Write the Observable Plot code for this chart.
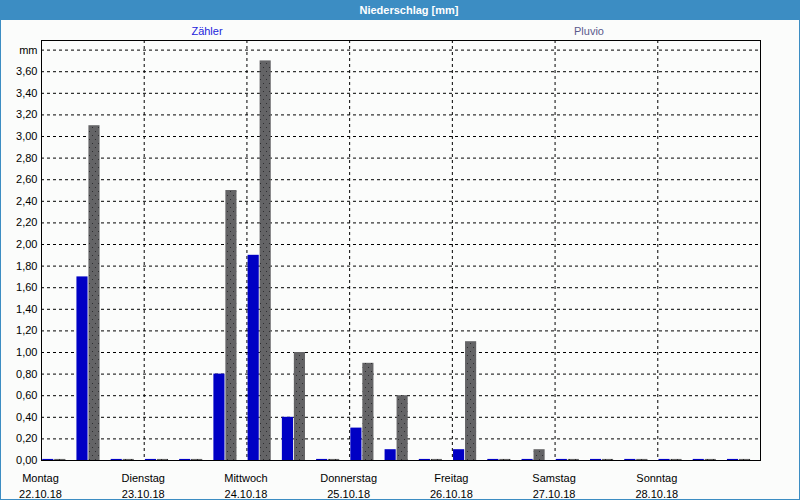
<!DOCTYPE html>
<html>
<head>
<meta charset="utf-8">
<script src="https://cdn.jsdelivr.net/npm/d3@7"></script>
<script src="https://cdn.jsdelivr.net/npm/@observablehq/plot@0.6"></script>
<style>
  html, body { margin: 0; padding: 0; background: #fbfcfb; }
  #wrap { position: relative; width: 800px; height: 500px; background: #fbfcfb; overflow: hidden;
          font-family: "Liberation Sans", Arial, sans-serif; }
  #title { position: absolute; left: 0; top: 0; width: 800px; height: 20px; background: #3c8dc3;
           color: #fff; font-weight: bold; font-size: 11px; line-height: 21px; text-align: center; text-indent: 18px; }
  .leg { position: absolute; top: 25px; font-size: 11px; transform: translateX(-50%); white-space: nowrap; }
  #chart { position: absolute; left: 0; top: 38px; }
  #border { position: absolute; left: 0; top: 0; width: 800px; height: 500px; box-sizing: border-box;
            border: 1px solid #3c8dc3; border-top: none; pointer-events: none; }
</style>
</head>
<body>
<div id="wrap">
  <div id="title">Niederschlag [mm]</div>
  <div class="leg" style="left:207px;color:#2424dc">Zähler</div>
  <div class="leg" style="left:589px;color:#5a5a8c">Pluvio</div>
  <div id="chart"></div>
  <div id="border"></div>
</div>
<script>
// Day labels (x axis)
const days = ["Montag", "Dienstag", "Mittwoch", "Donnerstag", "Freitag", "Samstag", "Sonntag"];
const dates = ["22.10.18", "23.10.18", "24.10.18", "25.10.18", "26.10.18", "27.10.18", "28.10.18"];

// 8-hour precipitation sums (mm), three per day
const zaehler = [0.01, 1.7, 0.01,  0.01, 0.01, 0.8,  1.9, 0.4, 0.01,  0.3, 0.1, 0.01,
                 0.1, 0.01, 0.01,  0.01, 0.01, 0.01,  0.01, 0.01, 0.01];
const pluvio  = [0.01, 3.1, 0.01,  0.01, 0.01, 2.5,  3.7, 1.0, 0.01,  0.9, 0.6, 0.01,
                 1.1, 0.01, 0.1,   0.01, 0.01, 0.01,  0.01, 0.01, 0.01];

// y tick values 0,00 ... 3,80 (top one labelled "mm")
const yTicks = [0, 0.2, 0.4, 0.6, 0.8, 1.0, 1.2, 1.4, 1.6, 1.8, 2.0, 2.2, 2.4, 2.6, 2.8, 3.0, 3.2, 3.4, 3.6, 3.8];

const slotsPerDay = 3;
const table = zaehler.map((z, i) => ({slot: i, zaehler: z, pluvio: pluvio[i]}));
const dayStarts = days.map((d, i) => i * slotsPerDay);
const gridXTicks = dayStarts.slice(1);
const gridYTicks = yTicks.slice(1);

const fmtY = v => (Math.abs(v - 3.8) < 1e-9 ? "mm" : v.toFixed(2).replace(".", ","));
const fmtX = v => { const i = Math.round(v / slotsPerDay); return days[i] + "\n" + dates[i]; };

const chart = Plot.plot({
  width: 800,
  height: 461,
  marginLeft: 41,
  marginRight: 40,
  marginTop: 2,
  marginBottom: 39,
  style: {background: "transparent", fontFamily: "Liberation Sans, Arial, sans-serif", fontSize: "11px", color: "#000"},
  x: {domain: [0, zaehler.length], axis: null},
  y: {domain: [0, 3.889], axis: null},
  marks: [
    Plot.gridY(gridYTicks, {stroke: "#000", strokeOpacity: 1, strokeDasharray: "3,3"}),
    Plot.gridX(gridXTicks, {stroke: "#000", strokeOpacity: 1, strokeDasharray: "3,3"}),
    Plot.rectY(table, {x1: d => d.slot + 0.035, x2: d => d.slot + 0.36, y: "zaehler", fill: "#0000c4"}),
    Plot.rectY(table, {x1: d => d.slot + 0.385, x2: d => d.slot + 0.71, y: "pluvio", fill: "url(#dots)"}),
    Plot.axisY(yTicks, {tickSize: 0, tickPadding: 4, tickFormat: fmtY, fill: "#000"}),
    Plot.axisX(dayStarts, {tickSize: 0, tickPadding: 10, tickFormat: fmtX, lineHeight: 1.45, fill: "#000", dx: -1}),
    Plot.frame({stroke: "#000"})
  ]
});

// dotted texture for the Pluvio bars
const ns = "http://www.w3.org/2000/svg";
const defs = document.createElementNS(ns, "defs");
defs.innerHTML = '<pattern id="dots" patternUnits="userSpaceOnUse" width="6" height="8">' +
  '<rect width="6" height="8" fill="#646466"/>' +
  '<rect x="2" y="1" width="1" height="1" fill="#2e2e30"/>' +
  '<rect x="5" y="5" width="1" height="1" fill="#2e2e30"/></pattern>';
chart.insertBefore(defs, chart.firstChild);

document.getElementById("chart").appendChild(chart);
</script>
</body>
</html>
